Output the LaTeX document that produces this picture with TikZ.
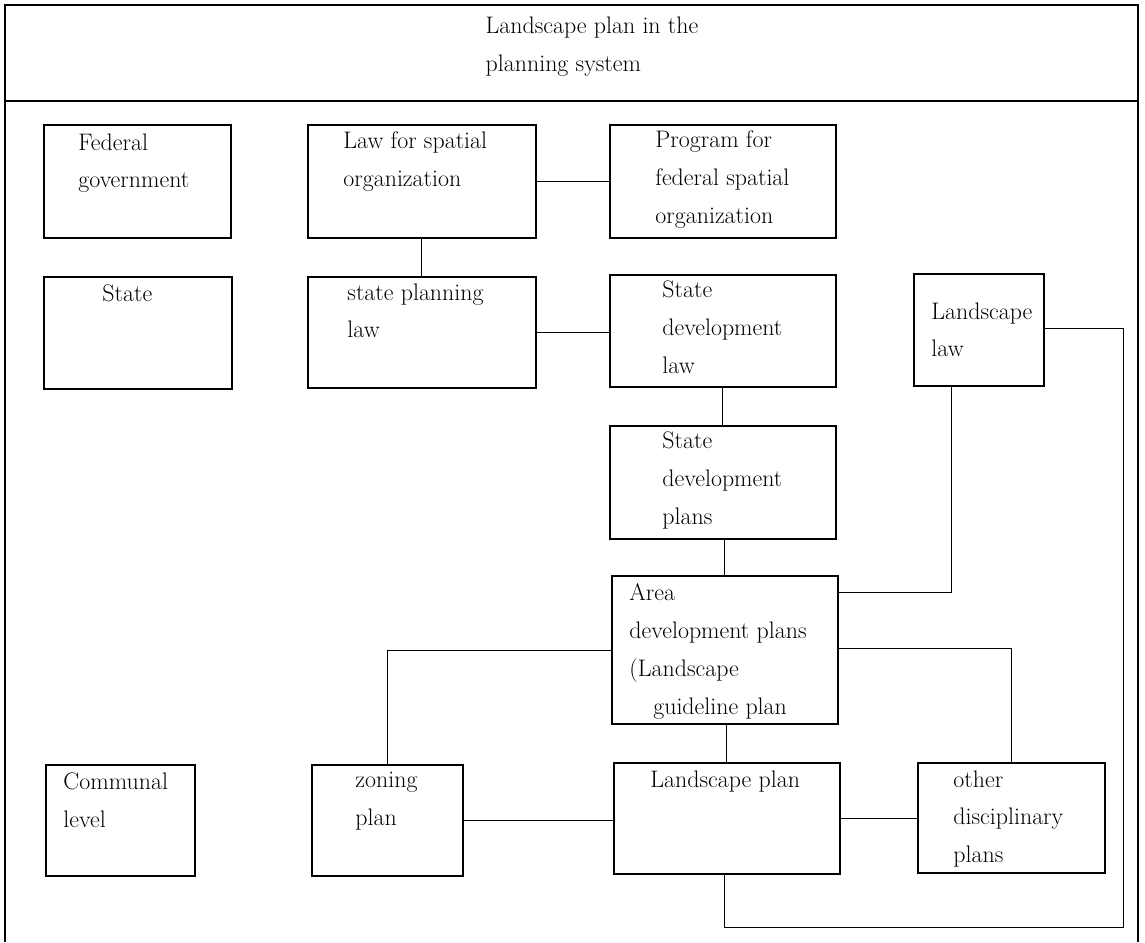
\documentclass[tikz,border=0pt]{standalone}
\usetikzlibrary{positioning,calc}

\begin{document}
\begin{tikzpicture}[x=0.025cm, y=-0.025cm, line width=0.6pt]
    \tikzstyle{plan} = [rectangle, draw, line width=1.1pt, anchor=north west, inner sep=0pt]
    \tikzstyle{caption} = [anchor=north west, align=left, inner sep=0pt, font=\fontsize{17}{27}\selectfont]

    \useasboundingbox (0,0) rectangle (1145,942);

    % frame and heading
    \draw[line width=1.1pt] (5,942) -- (5,5) -- (1138,5) -- (1138,942);
    \draw[line width=1.1pt] (5,101) -- (1138,101);
    \node[caption, anchor=center] (title) at (592,47) {Landscape plan in the\\planning system};

    % levels
    \node[plan, minimum width=4.675cm, minimum height=2.825cm] (fed) at (43,124) {};
    \node[caption] (fed-t) at ($(fed.north west)+(35,9)$) {Federal\\government};

    \node[plan, minimum width=4.7cm, minimum height=2.8cm] (state) at (43,276) {};
    \node[caption] (state-t) at ($(state.north west)+(59,8)$) {State};

    \node[plan, minimum width=3.725cm, minimum height=2.775cm] (comm) at (45,764) {};
    \node[caption] (comm-t) at ($(comm.north west)+(18,8)$) {Communal\\level};

    % federal row
    \node[plan, minimum width=5.7cm, minimum height=2.825cm] (law) at (307,124) {};
    \node[caption] (law-t) at ($(law.north west)+(36,7)$) {Law for spatial\\organization};

    \node[plan, minimum width=5.65cm, minimum height=2.825cm] (prog) at (609,124) {};
    \node[caption] (prog-t) at ($(prog.north west)+(46,6)$) {Program for\\federal spatial\\organization};

    % state row
    \node[plan, minimum width=5.7cm, minimum height=2.775cm] (spl) at (307,276) {};
    \node[caption] (spl-t) at ($(spl.north west)+(40,7)$) {state planning\\law};

    \node[plan, minimum width=5.65cm, minimum height=2.8cm] (sdl) at (609,274) {};
    \node[caption] (sdl-t) at ($(sdl.north west)+(53,6)$) {State\\development\\law};

    \node[plan, minimum width=3.25cm, minimum height=2.8cm] (llaw) at (913,273) {};
    \node[caption] (llaw-t) at ($(llaw.north west)+(18,29)$) {Landscape\\law};

    \node[plan, minimum width=5.65cm, minimum height=2.825cm] (sdp) at (609,425) {};
    \node[caption] (sdp-t) at ($(sdp.north west)+(53,6)$) {State\\development\\plans};

    \node[plan, minimum width=5.65cm, minimum height=3.7cm] (area) at (611,575) {};
    \node[caption] (area-t) at ($(area.north west)+(18,8)$) {Area\\development plans\\(Landscape\\\hspace*{17pt}guideline plan};

    % communal row
    \node[plan, minimum width=3.775cm, minimum height=2.775cm] (zon) at (311,764) {};
    \node[caption] (zon-t) at ($(zon.north west)+(44,8)$) {zoning\\plan};

    \node[plan, minimum width=5.65cm, minimum height=2.775cm] (lplan) at (613,762) {};
    \node[caption] (lplan-t) at ($(lplan.north west)+(37,8)$) {Landscape plan};

    \node[plan, minimum width=4.675cm, minimum height=2.75cm] (other) at (917,762) {};
    \node[caption] (other-t) at ($(other.north west)+(36,8)$) {other\\disciplinary\\plans};

    % links
    \draw (law.east) -- (prog.west);
    \draw (law.south) -- (spl.north);
    \draw (spl.east) -- (spl.east -| sdl.west);
    \draw (sdl.south) -- (sdp.north);
    \draw (area.north) -- (area.north |- sdp.south);
    \draw ($(llaw.south west)+(38,0)$) |- ($(area.north east)+(0,17)$);
    \draw ($(area.north west)+(0,75)$) -| (zon.north);
    \draw ($(area.north east)+(0,73)$) -| (other.north);
    \draw (lplan.north) -- (lplan.north |- area.south);
    \draw (zon.east) -- (zon.east -| lplan.west);
    \draw (lplan.east) -- (lplan.east -| other.west);
    \coordinate (loop) at (1123,927);
    \draw ($(lplan.south)+(-2,0)$) |- (loop) |- ($(llaw.north east)+(0,55)$);
\end{tikzpicture}
\end{document}
